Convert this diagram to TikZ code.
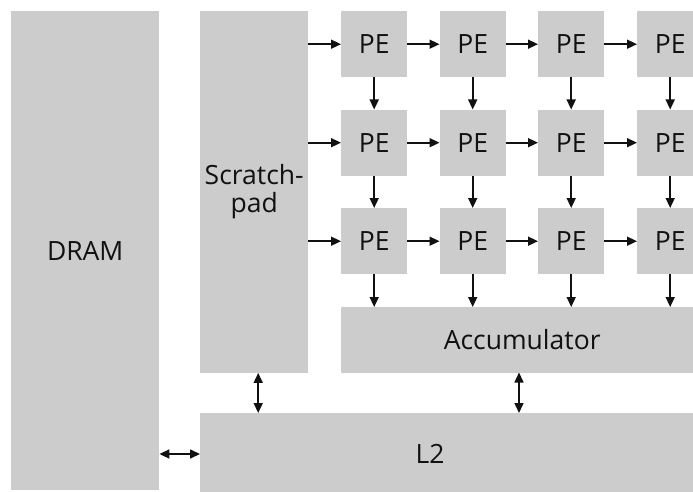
\documentclass[tikz,border=0pt]{standalone}
\usepackage{fontspec}
\setmainfont{Open Sans}
\usetikzlibrary{arrows.meta}
\definecolor{blockgray}{HTML}{CCCCCC}
\definecolor{ink}{HTML}{111111}
\begin{document}
\begin{tikzpicture}[x=1pt,y=-1pt,
  block/.style={fill=blockgray,draw=none,inner sep=0pt,anchor=north west,
    font=\fontsize{26.5}{25}\selectfont,text=ink,align=center},
  pe/.style={block,minimum width=66pt,minimum height=66pt},
  flow/.style={line width=1.6pt,draw=ink,-{Triangle[length=10pt,width=9pt]}},
  biflow/.style={line width=1.6pt,draw=ink,{Triangle[length=10pt,width=9pt]}-{Triangle[length=10pt,width=9pt]}}]
\useasboundingbox (0,0) rectangle (693,492);
\clip (0,0) rectangle (693,492);

% memory hierarchy blocks
\node[block,minimum width=148pt,minimum height=479pt] (dram) at (11,11) {DRAM};
\node[block,minimum width=108pt,minimum height=361.5pt] (sp) at (200,11) {\raisebox{-5pt}{\begin{tabular}{@{}c@{}}Scratch-\\pad\end{tabular}}};
\node[block,minimum width=362pt,minimum height=65.5pt] (acc) at (341,307) {Accumulator};
\node[block,minimum width=503pt,minimum height=82pt] (l2) at (200,413) {};
\node[font=\fontsize{26.5}{25}\selectfont,text=ink,inner sep=0pt] (l2text) at (430,454) {L2};

% 3 x 4 array of processing elements
\foreach \r/\y in {1/11,2/109.5,3/208}{
  \foreach \c/\x in {1/341,2/439.5,3/538,4/637}{
    \node[pe] (pe\r\c) at (\x,\y) {PE};
  }
}

% scratchpad feeds each row
\foreach \r in {1,2,3}{
  \draw[flow] (sp.east |- pe\r1.west) -- (pe\r1.west);
}
% horizontal flow along rows
\foreach \r in {1,2,3}{
  \foreach \c/\n in {1/2,2/3,3/4}{
    \draw[flow] (pe\r\c.east) -- (pe\r\n.west);
  }
}
% vertical flow down columns and into the accumulator
\foreach \c in {1,2,3,4}{
  \draw[flow] (pe1\c.south) -- (pe2\c.north);
  \draw[flow] (pe2\c.south) -- (pe3\c.north);
  \draw[flow] (pe3\c.south) -- (pe3\c.south |- acc.north);
}

% transfers to and from L2
\draw[biflow] ([xshift=4pt]sp.south) -- ([xshift=4pt]sp.south |- l2.north);
\draw[biflow] (519,372.5) -- (519,413);
\draw[biflow] (dram.east |- l2text) -- (l2.west |- l2text);
\end{tikzpicture}
\end{document}
